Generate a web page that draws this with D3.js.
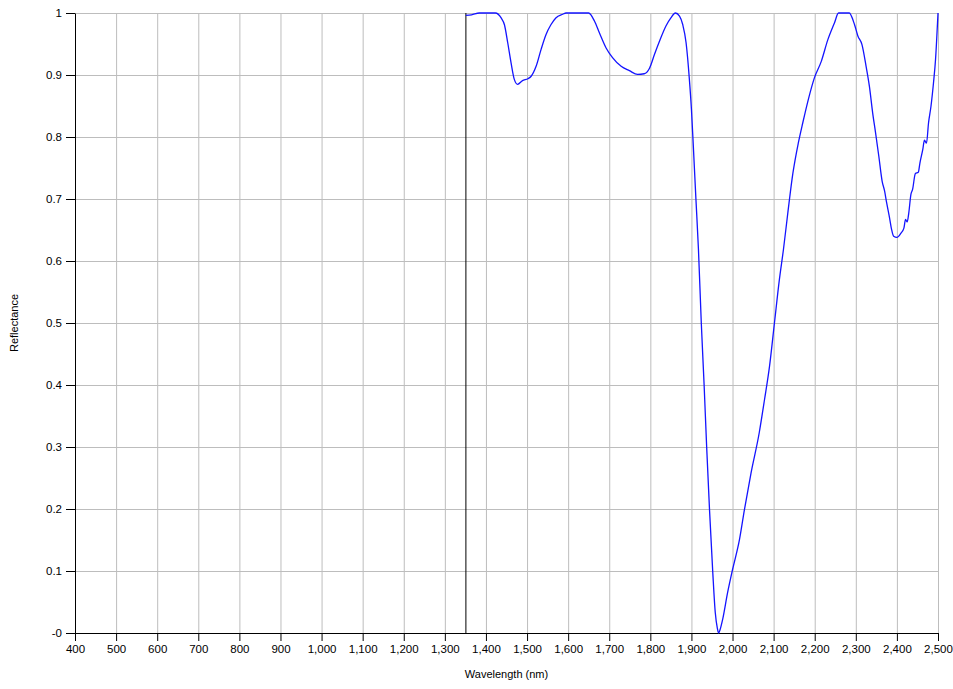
<!DOCTYPE html>
<html>
<head>
<meta charset="utf-8">
<script src="https://cdn.jsdelivr.net/npm/d3@7"></script>
<style>
    body { margin: 0px; overflow: hidden; background: #fff; }
</style>
</head>
<body id="body">
<svg id="main-svg" width="953" height="689"></svg>
<script>
'use strict';

// spectrum
const wavelengths = [
    1351, 1365, 1384, 1423, 1437, 1445, 1453, 1461, 1469, 1477,
    1489, 1502, 1510, 1522, 1534, 1546, 1558, 1570, 1587, 1595,
    1650, 1664, 1676, 1692, 1708, 1729, 1749, 1769, 1785, 1798,
    1810, 1822, 1838, 1850, 1861, 1871, 1879, 1887, 1895, 1900,
    1905, 1911, 1917, 1924, 1931, 1937, 1944, 1952, 1958, 1963,
    1966, 1970, 1976, 1988, 2000, 2017, 2029, 2045, 2065, 2078,
    2090, 2102, 2114, 2124, 2135, 2147, 2160, 2171, 2185, 2199,
    2216, 2232, 2248, 2258, 2284, 2297, 2305, 2315, 2325, 2333,
    2341, 2348, 2356, 2364, 2370, 2375, 2382, 2387, 2392, 2400,
    2410, 2417, 2421, 2425, 2429, 2434, 2438, 2445, 2452, 2456,
    2463, 2467, 2472, 2477, 2483, 2489, 2494, 2500,
];
const reflectance = [
    0.996, 0.997, 1.0, 1.0, 0.992, 0.981, 0.952, 0.920, 0.893, 0.885,
    0.891, 0.894, 0.898, 0.914, 0.941, 0.965, 0.981, 0.992, 0.998, 1.0,
    1.0, 0.987, 0.968, 0.944, 0.928, 0.914, 0.907, 0.901, 0.902, 0.911,
    0.933, 0.954, 0.979, 0.992, 1.0, 0.995, 0.981, 0.952, 0.893, 0.845,
    0.780, 0.699, 0.620, 0.500, 0.398, 0.301, 0.199, 0.097, 0.033, 0.008,
    0.0, 0.006, 0.022, 0.065, 0.102, 0.151, 0.199, 0.258, 0.323, 0.377,
    0.430, 0.500, 0.570, 0.619, 0.680, 0.742, 0.790, 0.823, 0.862, 0.895,
    0.922, 0.957, 0.984, 1.0, 1.0, 0.981, 0.963, 0.949, 0.914, 0.882,
    0.839, 0.807, 0.769, 0.729, 0.713, 0.694, 0.670, 0.651, 0.640, 0.638,
    0.645, 0.653, 0.667, 0.663, 0.678, 0.707, 0.715, 0.741, 0.743, 0.758,
    0.780, 0.795, 0.790, 0.823, 0.850, 0.887, 0.925, 1.0,
];

const x_ticks = [400, 500, 600, 700, 800, 900, 1000, 1100, 1200, 1300,
    1400, 1500, 1600, 1700, 1800, 1900, 2000, 2100, 2200, 2300, 2400, 2500];
const y_ticks = [0, 0.1, 0.2, 0.3, 0.4, 0.5, 0.6, 0.7, 0.8, 0.9, 1];
const cursor_wavelength = 1350;
const x_title = 'Wavelength (nm)';
const y_title = 'Reflectance';

const colors = {
    grid: '#bdbdbd',
    axis: '#000000',
    line: '#1414ff',
    text: '#000000',
};

const svg = d3.select('#main-svg');
const font = '"Liberation Sans", Arial, sans-serif';

const x = d3.scaleLinear().domain([400, 2500]).range([75, 938]);
const y = d3.scaleLinear().domain([0, 1]).range([633, 13]);

// grid
svg.append('g').selectAll('line')
    .data(x_ticks.slice(1))
    .enter().append('line')
    .attr('x1', (d) => x(d) + 0.5).attr('x2', (d) => x(d) + 0.5)
    .attr('y1', y(1)).attr('y2', y(0))
    .attr('stroke', colors.grid);

svg.append('g').selectAll('line')
    .data(y_ticks.slice(1))
    .enter().append('line')
    .attr('x1', x(400)).attr('x2', x(2500) + 1)
    .attr('y1', (d) => y(d) + 0.5).attr('y2', (d) => y(d) + 0.5)
    .attr('stroke', colors.grid);

// axes
const x_axis = d3.axisBottom(x)
    .tickValues(x_ticks)
    .tickFormat(d3.format(','))
    .tickSize(8)
    .tickSizeOuter(0)
    .tickPadding(4);

const y_axis = d3.axisLeft(y)
    .tickValues(y_ticks)
    .tickFormat((d) => d == 0 ? '-0' : String(d))
    .tickSize(9)
    .tickSizeOuter(0)
    .tickPadding(4);

const style_axis = (g) => {
    g.selectAll('path, line').attr('stroke', colors.axis);
    g.selectAll('text')
        .attr('fill', colors.text)
        .style('font-family', font)
        .style('font-size', '11.5px');
};

svg.append('g')
    .attr('transform', `translate(0,${y(0)})`)
    .call(x_axis)
    .call(style_axis);

svg.append('g')
    .attr('transform', `translate(${x(400)},0)`)
    .call(y_axis)
    .call(style_axis);

// cursor line
svg.append('line')
    .attr('x1', x(cursor_wavelength) + 0.5).attr('x2', x(cursor_wavelength) + 0.5)
    .attr('y1', y(1)).attr('y2', y(0))
    .attr('stroke', colors.axis);

// spectrum
const points = wavelengths.map((w, i) => [w, reflectance[i]]);
svg.append('path')
    .datum(points)
    .attr('fill', 'none')
    .attr('stroke', colors.line)
    .attr('stroke-width', 1.3)
    .attr('d', d3.line()
        .x((d) => x(d[0]))
        .y((d) => y(d[1]))
        .curve(d3.curveMonotoneX));

// titles
svg.append('text')
    .attr('x', (x(400) + x(2500)) / 2)
    .attr('y', 678)
    .attr('text-anchor', 'middle')
    .attr('fill', colors.text)
    .style('font-family', font)
    .style('font-size', '11px')
    .text(x_title);

svg.append('text')
    .attr('transform', `translate(18,${(y(0) + y(1)) / 2}) rotate(-90)`)
    .attr('text-anchor', 'middle')
    .attr('fill', colors.text)
    .style('font-family', font)
    .style('font-size', '11px')
    .text(y_title);
</script>
</body>
</html>
